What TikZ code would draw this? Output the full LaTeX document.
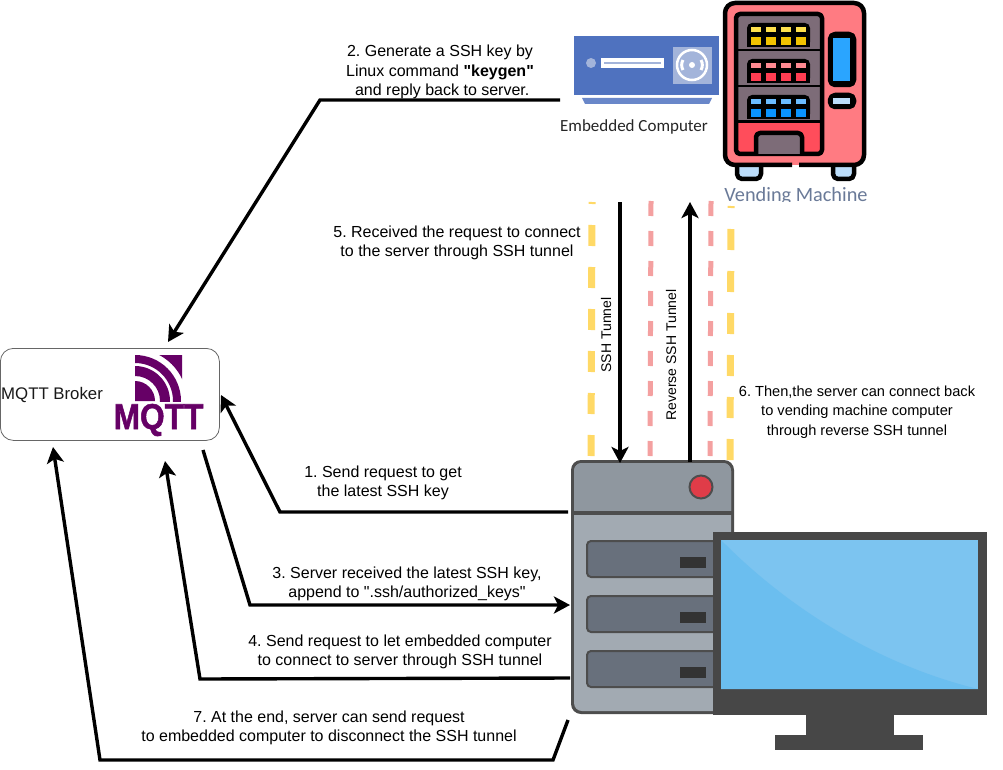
\documentclass[tikz,border=0pt]{standalone}
\usepackage{fontspec}
\setmainfont{Liberation Sans}
\newfontfamily\plainf{Liberation Sans}
\newfontfamily\mqf[UprightFont={* Bold},FakeBold=1.5]{Liberation Sans}
\newfontfamily\calib{Carlito}
\usetikzlibrary{arrows.meta,calc}
\definecolor{ylw}{HTML}{FFD966}
\definecolor{rdd}{HTML}{F4A0A0}
\definecolor{mq}{HTML}{660066}
\definecolor{blu}{HTML}{4F72BF}
\definecolor{lblu}{HTML}{A3B4DA}
\definecolor{vm}{HTML}{FF7B82}
\definecolor{vmd}{HTML}{FF4D5B}
\definecolor{vmg}{HTML}{7D6C78}
\definecolor{srvd}{HTML}{4D4D4D}
\definecolor{drw}{HTML}{68707C}
\definecolor{srvt}{HTML}{8F979F}
\definecolor{srvb}{HTML}{A2AAB2}
\definecolor{srvr}{HTML}{E03C48}
\definecolor{scrl}{HTML}{7CC4F0}
\definecolor{scrd}{HTML}{6BBEEF}
\definecolor{vmleg}{HTML}{BBDDFA}
\definecolor{vmscr}{HTML}{2AA5FF}
\definecolor{vmtxt}{HTML}{6A7A98}
\tikzset{
  flow/.style={line width=3.4pt,-{Stealth[length=16pt,width=17pt,inset=4pt]}},
  lab/.style={font=\plainf\frenchspacing\fontsize{16}{19.5}\selectfont,align=center,inner sep=0pt,text=black},
  vlab/.style={font=\fontsize{14}{16}\selectfont,rotate=90,inner sep=0pt},
  yd/.style={color=ylw,line width=7pt},
  rd/.style={color=rdd,line width=5pt,dash pattern=on 15pt off 15pt},
  drawer/.style={fill=drw,draw=srvd,line width=2pt,rounded corners=4pt},
  pt/.style={inner sep=0pt,outer sep=0pt,minimum size=0pt}
}
\begin{document}
\begin{tikzpicture}[x=1pt,y=-1pt]
\useasboundingbox (0,0) rectangle (1003,770);
\fill[white] (0,0) rectangle (1003,770);
% dashed tunnels
\draw[yd,dash pattern=on 21pt off 21pt,dash phase=19pt] (592,202) -- (591,456);
\draw[yd,dash pattern=on 21pt off 21pt,dash phase=19pt] (731,206) -- (730,460);
\draw[rd] (651,201) -- (650,456);
\draw[rd] (711,201) -- (710,456);
% MQTT broker
\node[draw=black!60,line width=.8pt,rounded corners=13pt,minimum width=219pt,minimum height=92pt,inner sep=0pt,anchor=north west,fill=white] (broker) at (0,348) {};
\node[anchor=west,inner sep=0pt,font=\fontsize{16.8}{18}\selectfont,text=black!90] (brokerlab) at (1,395) {MQTT Broker};
\begin{scope}
  \clip (135,355) rectangle (182,401);
  \fill[mq] (135,401) -- (135,381) arc[start angle=-90,end angle=0,radius=20] -- cycle;
  \fill[mq,even odd rule] (135,401) circle[radius=35] (135,401) circle[radius=25];
  \fill[mq,even odd rule] (135,401) circle[radius=46] (135,401) circle[radius=38];
  \fill[mq,even odd rule] (135,401) circle[radius=90] (135,401) circle[radius=52];
\end{scope}
\node[inner sep=0pt,font=\mqf\fontsize{36}{36}\selectfont,text=mq,xscale=.88] (mqttlogo) at (158.5,420) {MQTT};
% embedded computer
\fill[blu] (574,36) rectangle (719,95);
\fill[blu!85] (582,98) -- (712,98) -- (709,104) -- (585,104) -- cycle;
\fill[lblu] (591,63) circle[radius=5];
\fill[white] (601,58) rectangle (664,68);
\fill[lblu] (604,62) rectangle (661,64);
\fill[lblu] (673,47) rectangle (712,84);
\draw[white,line width=2.5pt] (692,65) circle[radius=15];
\draw[white,line width=3pt] (683,60) arc[start angle=-150,end angle=-210,radius=10];
\draw[white,line width=3pt] (701,70) arc[start angle=30,end angle=-30,radius=10];
\fill[white] (692,65) circle[radius=3];
\node[inner sep=0pt,font=\calib\fontsize{17}{18}\selectfont,text=black!85] (emb) at (634,127) {Embedded Computer};
% vending machine
\begin{scope}[line width=4.5pt,draw=black,line join=round]
  \filldraw[fill=vmleg,rounded corners=5pt] (737,160) -- (737,179) -- (761,179) -- (761,160);
  \filldraw[fill=vmleg,rounded corners=5pt] (833,160) -- (833,179) -- (854,179) -- (854,160);
  \fill[vm,rounded corners=10pt] (725,3) rectangle (864,165);
  \draw[rounded corners=10pt] (792,165) -- (725,165) -- (725,3) -- (864,3) -- (864,165) -- (799,165);
  \fill[vmg] (738,14) rectangle (820,122);
  \fill[vmd] (738,122) rectangle (820,153);
  \draw[rounded corners=4pt] (736,14) rectangle (822,154);
  \draw[line width=2.5pt] (736,50) -- (822,50) (736,86) -- (822,86);
  \draw[line width=3pt] (736,122) -- (822,122);
  \foreach \yy/\ca/\cb in {0/FFE14D/F2C200,36/FF8A92/FF3D52,72/6BBCFF/0A93FF}{
    \fill[black,rounded corners=5pt] (747,23+\yy) rectangle (810,47+\yy);
    \fill[black] (747,35+\yy) rectangle (810,47+\yy);
    \definecolor{ca}{HTML}{\ca}\definecolor{cb}{HTML}{\cb}
    \foreach \xx in {751,766,781,796}{
      \fill[ca] (\xx,27+\yy) rectangle ++(10,5);
      \fill[cb] (\xx,37+\yy) rectangle ++(10,8);
    }
  }
  \filldraw[fill=vmg,rounded corners=4pt] (756,154) -- (756,133) -- (802,133) -- (802,154);
  \filldraw[fill=black,rounded corners=5pt] (830,34) rectangle (854,85);
  \fill[vmscr] (833,38) rectangle (850,81);
  \filldraw[fill=black,rounded corners=5pt] (830,95) rectangle (854,107);
  \fill[vmleg] (833,98) rectangle (850,104);
\end{scope}
\begin{scope}
  \clip (700,180) rectangle (900,201);
  \node[inner sep=0pt,font=\calib\fontsize{20.3}{22}\selectfont,text=vmtxt] (vend) at (796,196) {Vending Machine};
\end{scope}
% server
\fill[srvd,rounded corners=10pt] (571,460) rectangle (734,714);
\fill[srvb,rounded corners=8pt] (574,463) rectangle (731,711);
\begin{scope}
  \clip (570,455) rectangle (740,512);
  \fill[srvt,rounded corners=8pt] (574,463) rectangle (731,711);
\end{scope}
\fill[srvd] (572,510.5) rectangle (733,514.5);
\filldraw[fill=srvr,draw=srvd,line width=2pt] (701,487) circle[radius=11.5];
\foreach \yy in {541,596,651}{
  \draw[drawer] (587,\yy) rectangle (725,\yy+36);
  \fill[black!80] (680,\yy+16) rectangle (706,\yy+27);
}
\node[pt] (server) at (650,587) {};
% monitor
\fill[black!72] (713,532) rectangle (987,715);
\fill[black!72] (806,715) rectangle (894,735);
\fill[black!72] (775,735) rectangle (923,750);
\fill[scrl] (721,540) rectangle (978,689);
\fill[scrd] (721,540) .. controls (790,610) and (880,665) .. (978,689) -- (721,689) -- cycle;
% connector points
\coordinate (a2s) at (560,100); \coordinate (a2m) at (320,100); \coordinate (a2e) at (168,342);
\coordinate (a5s) at (620,202); \coordinate (a5e) at (620,463);
\coordinate (ars) at (690,462); \coordinate (are) at (690,202);
\coordinate (a1s) at (568,512); \coordinate (a1m) at (280,512); \coordinate (a1e) at (221,395);
\coordinate (a3s) at (203,450); \coordinate (a3m) at (250,605); \coordinate (a3e) at (570,605);
\coordinate (a4s) at (570,678); \coordinate (a4m) at (200,679); \coordinate (a4e) at (165,461);
\coordinate (a7s) at (568,720); \coordinate (a7a) at (553,760); \coordinate (a7m) at (100,760); \coordinate (a7e) at (53,447);
\draw[flow] (a2s) -- (a2m) -- (a2e);
\draw[flow] (a5s) -- (a5e);
\draw[flow] (ars) -- (are);
\draw[flow] (a1s) -- (a1m) -- (a1e);
\draw[flow] (a3s) -- (a3m) -- (a3e);
\draw[flow] (a4s) -- (a4m) -- (a4e);
\draw[flow] (a7s) -- (a7a) -- (a7m) -- (a7e);
% labels
\node[lab] (l2) at (440,72) {2. Generate a SSH key by\\Linux command \textbf{"keygen"}\\ \ and reply back to server.};
\node[lab] (l5) at (457,243) {5. Received the request to connect\\to the server through SSH tunnel};
\node[lab] (l1) at (383,483) {1. Send request to get\\the latest SSH key};
\node[lab] (l3) at (407,584) {3. Server received the latest SSH key,\\append to ".ssh/authorized\_keys"};
\node[lab] (l4) at (400,652) {4. Send request to let embedded computer\\to connect to server through SSH tunnel};
\node[lab] (l7) at (329,728) {7. At the end, server can send request\\to embedded computer to disconnect the SSH tunnel};
\node[lab,font=\plainf\frenchspacing\fontsize{14.6}{19.5}\selectfont] (l6) at (857,412) {6. Then,the server can connect back\\to vending machine computer\\through reverse SSH tunnel};
\node[vlab] (vs) at (606,335) {SSH Tunnel};
\node[vlab] (vr) at (671,355) {Reverse SSH Tunnel};
\end{tikzpicture}
\end{document}
